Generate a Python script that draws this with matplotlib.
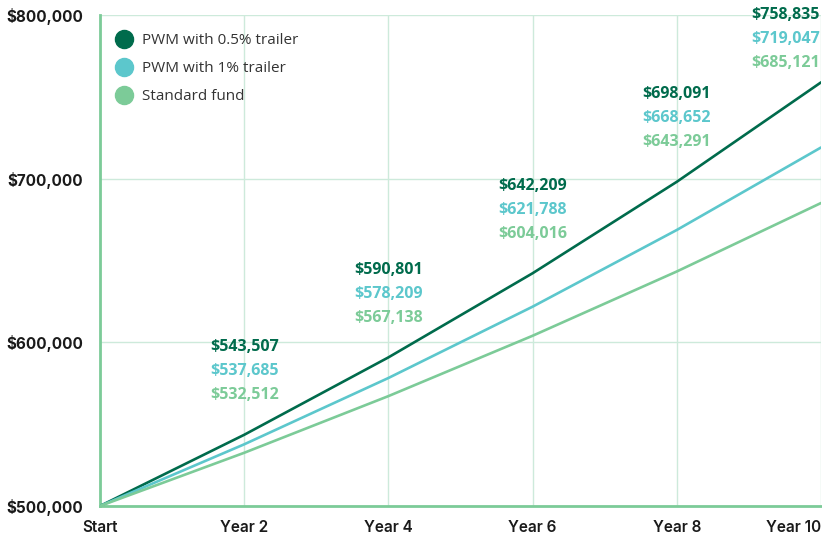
import matplotlib.pyplot as plt
from matplotlib.lines import Line2D

years = [0, 2, 4, 6, 8, 10]
tick_labels = ['Start', 'Year 2', 'Year 4', 'Year 6', 'Year 8', 'Year 10']
pwm_half = [500000, 543507, 590801, 642209, 698091, 758835]
pwm_one = [500000, 537685, 578209, 621788, 668652, 719047]
standard = [500000, 532512, 567138, 604016, 643291, 685121]
names = ['PWM with 0.5% trailer', 'PWM with 1% trailer', 'Standard fund']

DARK = '#006b4c'
TEAL = '#5cc7cc'
LIGHT = '#7ccb98'
GRID = '#cdeadb'

fig = plt.figure(figsize=(8.22, 5.37), dpi=100)
ax = fig.add_axes([100 / 822, 1 - 506 / 537, 721 / 822, 491 / 537])

series = [pwm_half, pwm_one, standard]
colors = [DARK, TEAL, LIGHT]
for vals, c in zip(series, colors):
    ax.plot(years, vals, color=c, lw=1.9, solid_capstyle='round', zorder=3)

ax.set_xlim(0, 10)
ax.set_ylim(500000, 800000)
ax.set_xticks(years)
ax.set_xticklabels(tick_labels)
ax.set_yticks([500000, 600000, 700000, 800000])
ax.set_yticklabels(['${:,}'.format(v) for v in [500000, 600000, 700000, 800000]])
ax.grid(True, color=GRID, lw=1.0, zorder=0)
ax.tick_params(length=0)
ax.tick_params(axis='y', pad=12)
ax.tick_params(axis='x', pad=10)
for lab in ax.get_xticklabels() + ax.get_yticklabels():
    lab.set_fontfamily('Inter')
    lab.set_fontweight('semibold')
    lab.set_fontsize(11)
    lab.set_color('#1a1a1a')
for lab in ax.get_yticklabels():
    lab.set_fontweight('bold')
ax.get_xticklabels()[-1].set_horizontalalignment('right')

for s in ['top', 'right']:
    ax.spines[s].set_visible(False)
for s in ['left', 'bottom']:
    ax.spines[s].set_color(LIGHT)
    ax.spines[s].set_linewidth(2)

# value labels above each point
for i in range(1, len(years)):
    x = years[i]
    top = min(pwm_half[i] + 53500, 800000)
    ha = 'center' if x < 10 else 'right'
    xo = 0 if x < 10 else -1
    for k, (vals, c) in enumerate(zip(series, colors)):
        ax.annotate('${:,}'.format(vals[i]), (x, top), xytext=(xo, -k * 17.3),
                    textcoords='offset points', ha=ha, va='center',
                    fontsize=11.5, fontweight='bold', family='Open Sans',
                    color=c, annotation_clip=False, zorder=4)

handles = [Line2D([], [], ls='none', marker='o', ms=13, color=c) for c in colors]
ax.legend(handles, names, loc='upper left', bbox_to_anchor=(-0.003, 0.985),
          frameon=False, handletextpad=0.2, labelspacing=0.85,
          prop={'family': 'Open Sans', 'size': 11}, labelcolor='#333333',
          borderaxespad=0.3)

fig.savefig('out.png', dpi=100)
